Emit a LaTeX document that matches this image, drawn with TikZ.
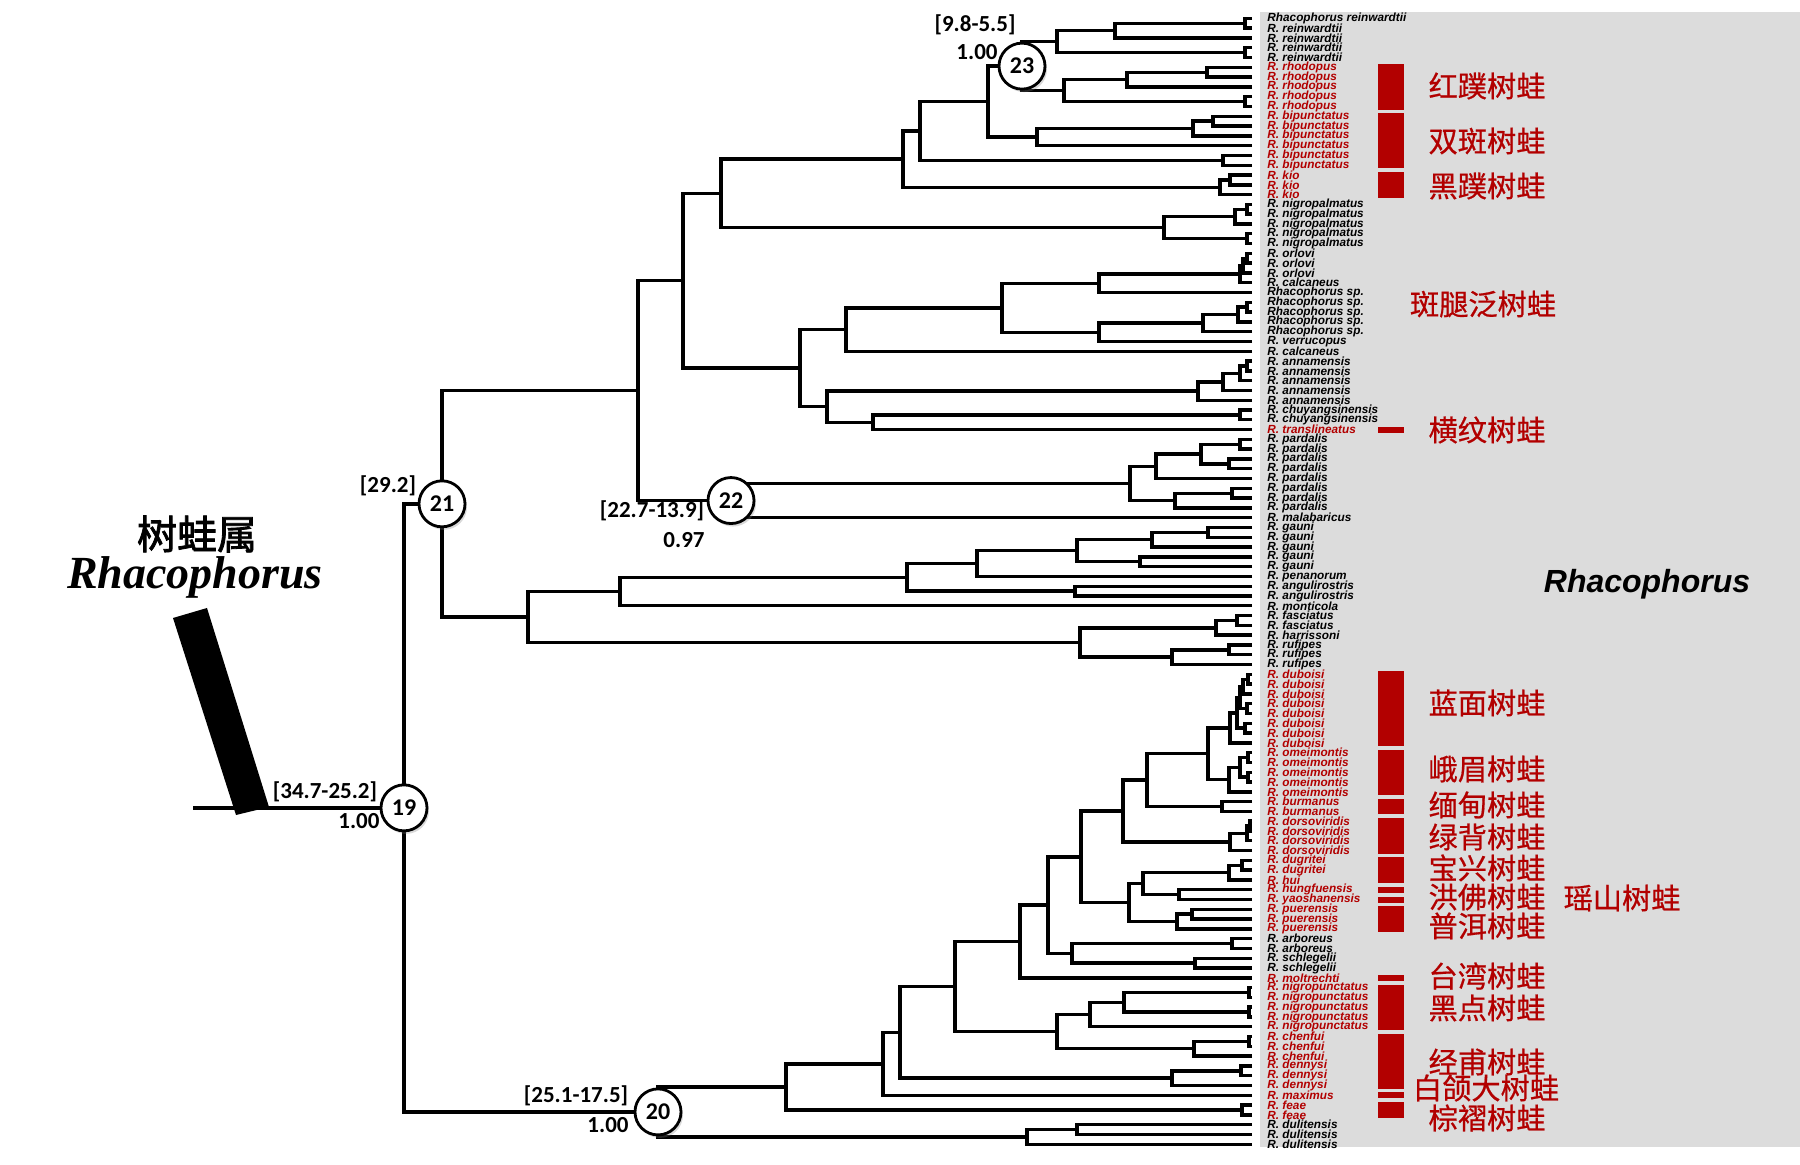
\documentclass[tikz,border=0pt]{standalone}
\usepackage{fontspec}
\usepackage{tikz}
\usetikzlibrary{calc,shadows}
\setmainfont{Liberation Serif}
\newfontfamily\tipfont{Liberation Sans}
\newfontfamily\calfont{Carlito}
\newfontfamily\cjk[FakeBold=0.6]{Noto Sans CJK SC}
\newfontfamily\cjkbold[FakeBold=2]{Noto Sans CJK SC}
\definecolor{treered}{RGB}{178,0,0}
\definecolor{bggray}{RGB}{220,220,220}
\tikzset{
  branch/.style={line width=1.7pt},
  tiplabel/.style={anchor=west,inner sep=0pt,font=\tipfont\bfseries\itshape\fontsize{5.9}{6}\selectfont},
  cnum/.style={circle,draw,line width=1.4pt,fill=white,minimum size=23pt,inner sep=0pt,
    font=\calfont\bfseries\fontsize{12}{12}\selectfont,
    drop shadow={opacity=0.3,shadow xshift=1pt,shadow yshift=-1.5pt}},
  agelabel/.style={inner sep=0pt,text=black,font=\calfont\bfseries\fontsize{11.5}{12}\selectfont},
  zhlabel/.style={inner sep=0pt,text=treered,font=\cjk\fontsize{14.6}{15}\selectfont},
  redbar/.style={fill=treered}
}
% clade: name, x of the node, upper child, lower child
\newcommand{\clade}[4]{%
  \coordinate (#1m) at ($(#3)!0.5!(#4)$);
  \coordinate (#1) at (#2,0 |- #1m);
  \draw[branch] (#3) -| (#1);
  \draw[branch] (#4) -| (#1);
}

\begin{document}
\begin{tikzpicture}[x=0.5pt,y=0.5pt,yscale=-1,xscale=1]
\useasboundingbox (0,0) rectangle (1800,1165);

% grey panel
\fill[bggray] (1260,12) rectangle (1800,1147);

% tips
\foreach \i in {1,...,116} \coordinate (t\i) at (1252,{8.61+9.79*\i});

% tip labels
\foreach \first/\last/\sp/\col in {1/1/Rhacophorus reinwardtii/black, 2/5/R. reinwardtii/black,
  6/10/R. rhodopus/treered, 11/16/R. bipunctatus/treered, 17/19/R. kio/treered,
  20/24/R. nigropalmatus/black, 25/27/R. orlovi/black, 28/28/R. calcaneus/black,
  29/33/Rhacophorus sp./black, 34/34/R. verrucopus/black, 35/35/R. calcaneus/black,
  36/40/R. annamensis/black, 41/42/R. chuyangsinensis/black, 43/43/R. translineatus/treered,
  44/51/R. pardalis/black, 52/52/R. malabaricus/black, 53/57/R. gauni/black,
  58/58/R. penanorum/black, 59/60/R. angulirostris/black, 61/61/R. monticola/black,
  62/63/R. fasciatus/black, 64/64/R. harrissoni/black, 65/67/R. rufipes/black,
  68/75/R. duboisi/treered, 76/80/R. omeimontis/treered, 81/82/R. burmanus/treered,
  83/86/R. dorsoviridis/treered, 87/88/R. dugritei/treered, 89/89/R. hui/treered,
  90/90/R. hungfuensis/treered, 91/91/R. yaoshanensis/treered, 92/94/R. puerensis/treered,
  95/96/R. arboreus/black, 97/98/R. schlegelii/black, 99/99/R. moltrechti/treered,
  100/104/R. nigropunctatus/treered, 105/107/R. chenfui/treered, 108/110/R. dennysi/treered,
  111/111/R. maximus/treered, 112/113/R. feae/treered, 114/116/R. dulitensis/black}
  \foreach \i in {\first,...,\last}
    \node[tiplabel,text=\col] (l\i) at (1267,{8.61+9.79*\i}) {\sp};

% red bars
\foreach \a/\b in {6/10,11/16,17/19,43/43,68/75,76/80,81/82,83/86,87/89,90/90,91/91,
  92/94,99/99,100/104,105/110,111/111,112/113}
  \fill[redbar] (1378,{8.61+9.79*\a-3}) rectangle (1404,{8.61+9.79*\b+3});

% upper clade
\clade{c1}{1245}{t1}{t2}
\clade{c2}{1115}{c1}{t3}
\clade{c3}{1245}{t4}{t5}
\clade{c4}{1057}{c2}{c3}
\clade{c5}{1207}{t6}{t7}
\clade{c6}{1127}{c5}{t8}
\clade{c7}{1245}{t9}{t10}
\clade{c8}{1064}{c6}{c7}
\clade{n23}{1022}{c4}{c8}
\clade{c9}{1213}{t11}{t12}
\clade{c10}{1193}{c9}{t13}
\clade{c11}{1037}{c10}{t14}
\clade{c12}{988}{n23}{c11}
\clade{c13}{1223}{t15}{t16}
\clade{c14}{920}{c12}{c13}
\clade{c15}{1230}{t17}{t18}
\clade{c16}{1220}{c15}{t19}
\clade{c17}{903}{c14}{c16}
\clade{c18}{1247}{t20}{t21}
\clade{c19}{1235}{c18}{t22}
\clade{c20}{1247}{t23}{t24}
\clade{c21}{1164}{c19}{c20}
\clade{c22}{721}{c17}{c21}
\clade{c23}{1247}{t25}{t26}
\clade{c24}{1243}{c23}{t27}
\clade{c25}{1240}{c24}{t28}
\clade{c26}{1099}{c25}{t29}
\clade{c27}{1247}{t30}{t31}
\clade{c28}{1238}{c27}{t32}
\clade{c29}{1203}{c28}{t33}
\clade{c30}{1099}{c29}{t34}
\clade{c31}{1002}{c26}{c30}
\clade{c32}{846}{c31}{t35}
\clade{c33}{1247}{t36}{t37}
\clade{c34}{1240}{c33}{t38}
\clade{c35}{1223}{c34}{t39}
\clade{c36}{1198}{c35}{t40}
\clade{c37}{1240}{t41}{t42}
\clade{c38}{873}{c37}{t43}
\clade{c39}{827}{c36}{c38}
\clade{c40}{800}{c32}{c39}
\clade{c41}{683}{c22}{c40}
\clade{c42}{1240}{t44}{t45}
\clade{c43}{1229}{t46}{t47}
\clade{c44}{1201}{c42}{c43}
\clade{c45}{1156}{c44}{t48}
\clade{c46}{1232}{t49}{t50}
\clade{c47}{1175}{c46}{t51}
\clade{c48}{1130}{c45}{c47}
\clade{n22}{731}{c48}{t52}
\clade{c49}{638}{c41}{n22}
\clade{c50}{1208}{t53}{t54}
\clade{c51}{1152}{c50}{t55}
\clade{c52}{1140}{t56}{t57}
\clade{c53}{1077}{c51}{c52}
\clade{c54}{977}{c53}{t58}
\clade{c55}{1075}{t59}{t60}
\clade{c56}{907}{c54}{c55}
\clade{c57}{620}{c56}{t61}
\clade{c58}{1237}{t62}{t63}
\clade{c59}{1216}{c58}{t64}
\clade{c60}{1229}{t65}{t66}
\clade{c61}{1172}{c60}{t67}
\clade{c62}{1080}{c59}{c61}
\clade{c63}{528}{c57}{c62}
\clade{n21}{442}{c49}{c63}

% lower clade
\clade{d1}{1248}{t68}{t69}
\clade{d2}{1243}{d1}{t70}
\clade{d3}{1247}{t71}{t72}
\clade{d4}{1240}{d2}{d3}
\clade{d5}{1245}{t73}{t74}
\clade{d6}{1237}{d4}{d5}
\clade{d7}{1230}{d6}{t75}
\clade{d8}{1248}{t76}{t77}
\clade{d9}{1248}{t78}{t79}
\clade{d10}{1240}{d8}{d9}
\clade{d11}{1229}{d10}{t80}
\clade{d12}{1208}{d7}{d11}
\clade{d13}{1222}{t81}{t82}
\clade{d14}{1147}{d12}{d13}
\clade{d15}{1250}{t83}{t84}
\clade{d16}{1247}{d15}{t85}
\clade{d17}{1230}{d16}{t86}
\clade{d18}{1123}{d14}{d17}
\clade{d19}{1242}{t87}{t88}
\clade{d20}{1229}{d19}{t89}
\clade{d21}{1179}{t90}{t91}
\clade{d22}{1143}{d20}{d21}
\clade{d23}{1192}{t92}{t93}
\clade{d24}{1177}{d23}{t94}
\clade{d25}{1129}{d22}{d24}
\clade{d26}{1081}{d18}{d25}
\clade{d27}{1232}{t95}{t96}
\clade{d28}{1195}{t97}{t98}
\clade{d29}{1072}{d27}{d28}
\clade{d30}{1048}{d26}{d29}
\clade{d31}{1020}{d30}{t99}
\clade{d32}{1249}{t100}{t101}
\clade{d33}{1249}{t102}{t103}
\clade{d34}{1124}{d32}{d33}
\clade{d35}{1090}{d34}{t104}
\clade{d36}{1249}{t105}{t106}
\clade{d37}{1194}{d36}{t107}
\clade{d38}{1057}{d35}{d37}
\clade{d39}{955}{d31}{d38}
\clade{d40}{1241}{t108}{t109}
\clade{d41}{1172}{d40}{t110}
\clade{d42}{900}{d39}{d41}
\clade{d43}{883}{d42}{t111}
\clade{d44}{1242}{t112}{t113}
\clade{d45}{786}{d43}{d44}
\clade{d46}{1077}{t114}{t115}
\clade{d47}{1027}{d46}{t116}
\clade{n20}{658}{d45}{d47}
\clade{n19}{404}{n21}{n20}

% root
\coordinate (root) at (193,0 |- n19);
\draw[branch] (root) -- (n19);

% genus bar
\fill (173,618) -- (207,608) -- (269,807) -- (236,815) -- cycle;

% node circles
\node[cnum] (k19) at (n19) {19};
\node[cnum] (k20) at (n20) {20};
\node[cnum] (k21) at (n21) {21};
\node[cnum] (k22) at (n22) {22};
\node[cnum] (k23) at (n23) {23};

% ages and posteriors
\node[agelabel] (a23) at (975,25) {[9.8-5.5]};
\node[agelabel] (p23) at (977,52) {1.00};
\node[agelabel] (a21) at (388,486) {[29.2]};
\node[agelabel] (a22) at (652,511) {[22.7-13.9]};
\node[agelabel] (p22) at (684,540) {0.97};
\node[agelabel] (a19) at (325,792) {[34.7-25.2]};
\node[agelabel] (p19) at (359,821) {1.00};
\node[agelabel] (a20) at (576,1096) {[25.1-17.5]};
\node[agelabel] (p20) at (608,1125) {1.00};

% genus names
\node[inner sep=0pt,font=\cjkbold\fontsize{20}{20}\selectfont] (genus-zh) at (197,534) {树蛙属};
\node[inner sep=0pt,font=\bfseries\itshape\fontsize{23}{23}\selectfont] (genus-la) at (195,577) {Rhacophorus};
\node[inner sep=0pt,font=\tipfont\bfseries\itshape\fontsize{16}{16}\selectfont] (clade-la) at (1647,584) {Rhacophorus};

% Chinese names
\node[zhlabel] (zh-rhodopus) at (1487,86) {红蹼树蛙};
\node[zhlabel] (zh-bipunctatus) at (1487,141) {双斑树蛙};
\node[zhlabel] (zh-kio) at (1487,186) {黑蹼树蛙};
\node[zhlabel] (zh-sp) at (1483,304) {斑腿泛树蛙};
\node[zhlabel] (zh-translineatus) at (1487,430) {横纹树蛙};
\node[zhlabel] (zh-duboisi) at (1487,703) {蓝面树蛙};
\node[zhlabel] (zh-omeimontis) at (1487,769) {峨眉树蛙};
\node[zhlabel] (zh-burmanus) at (1487,805) {缅甸树蛙};
\node[zhlabel] (zh-dorsoviridis) at (1487,837) {绿背树蛙};
\node[zhlabel] (zh-dugritei) at (1487,868) {宝兴树蛙};
\node[zhlabel] (zh-hungfuensis) at (1487,897) {洪佛树蛙};
\node[zhlabel] (zh-yaoshanensis) at (1622,898) {瑶山树蛙};
\node[zhlabel] (zh-puerensis) at (1487,926) {普洱树蛙};
\node[zhlabel] (zh-moltrechti) at (1487,976) {台湾树蛙};
\node[zhlabel] (zh-nigropunctatus) at (1487,1008) {黑点树蛙};
\node[zhlabel] (zh-chenfui) at (1487,1062) {经甫树蛙};
\node[zhlabel] (zh-maximus) at (1486,1088) {白颌大树蛙};
\node[zhlabel] (zh-feae) at (1487,1118) {棕褶树蛙};

\end{tikzpicture}
\end{document}
